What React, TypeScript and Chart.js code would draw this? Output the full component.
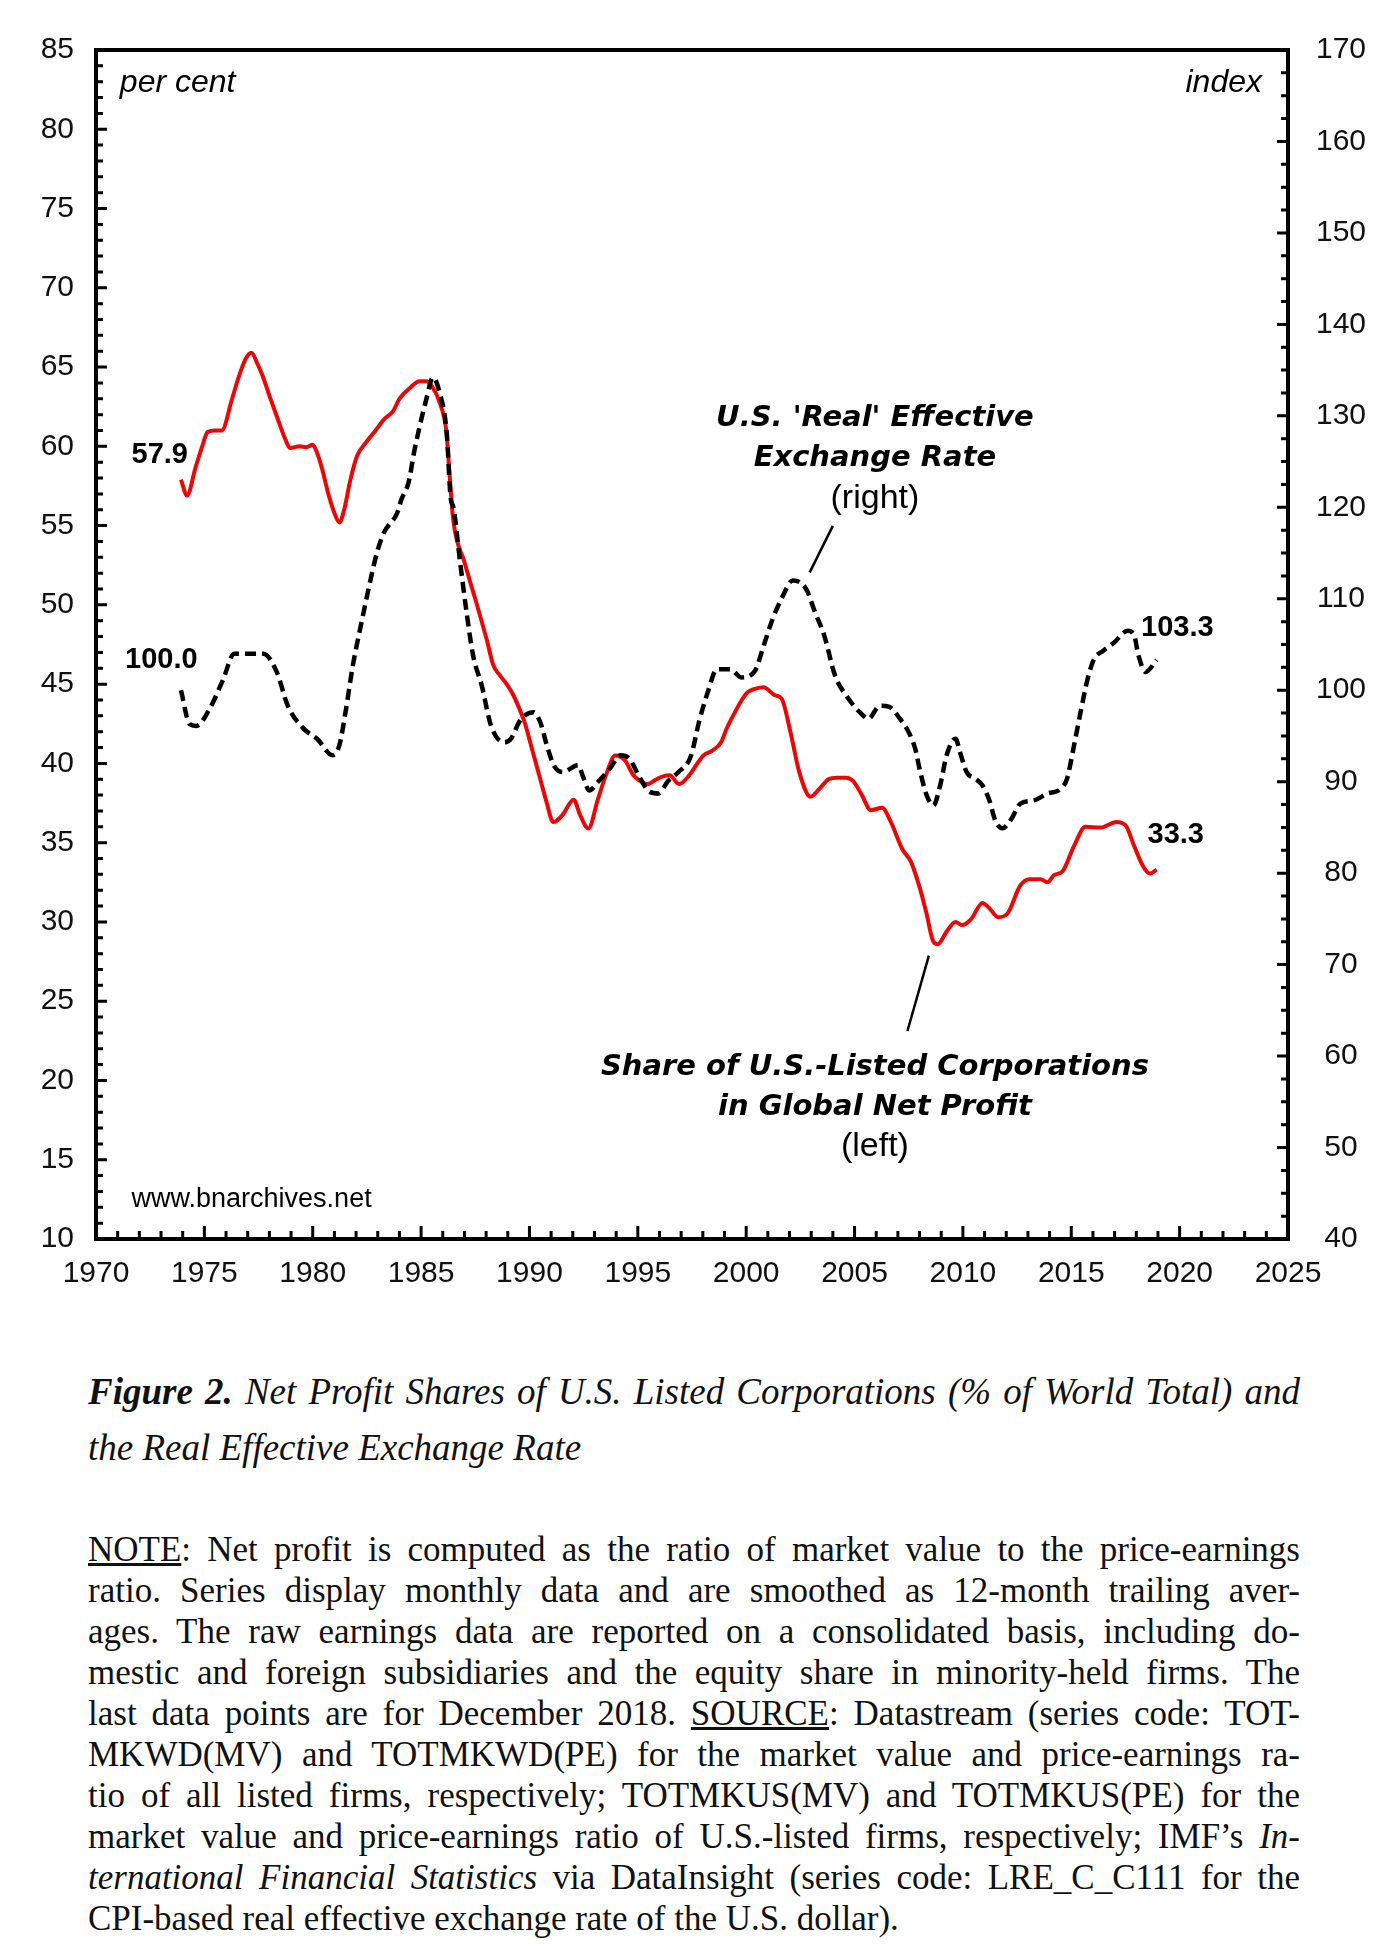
import React, { useEffect, useLayoutEffect, useRef } from 'react';
import { Chart, registerables } from 'chart.js';

Chart.register(...registerables);

// ---- axis ranges / tick steps ----
const X_MIN = 1970;
const X_MAX = 2025;
const X_STEP = 5;
const LEFT_MIN = 10;
const LEFT_MAX = 85;
const LEFT_STEP = 5;
const LEFT_MINOR = 1;
const RIGHT_MIN = 40;
const RIGHT_MAX = 170;
const RIGHT_STEP = 10;
const RIGHT_MINOR = 2.5;

// ---- Share of U.S.-listed corporations in global net profit (per cent, left) ----
const redYears = [
  1973.92, 1974.2, 1974.6, 1974.9, 1975.15, 1975.5, 1975.8, 1976.28, 1976.59, 1976.9, 1977.17,
  1977.45, 1977.7, 1978.0, 1978.34, 1978.75, 1978.95, 1979.4, 1979.7, 1980.0, 1980.2, 1980.45,
  1980.7, 1981.0, 1981.23, 1981.45, 1981.74, 1982.05, 1982.46, 1982.9, 1983.29, 1983.7, 1984.0,
  1984.5, 1984.93, 1985.24, 1985.5, 1985.86, 1986.17, 1986.3, 1986.48, 1987.0, 1987.6, 1988.03,
  1988.33, 1988.64, 1988.95, 1989.26, 1989.47, 1989.8, 1990.08, 1990.5, 1990.8, 1991.1, 1991.5,
  1992.04, 1992.35, 1992.72, 1993.17, 1993.58, 1993.95, 1994.4, 1994.8, 1995.1, 1995.44, 1995.86,
  1996.2, 1996.47, 1996.9, 1997.4, 1997.7, 1998.03, 1998.44, 1998.85, 1999.1, 1999.47, 1999.8,
  2000.08, 2000.4, 2000.81, 2001.32, 2001.63, 2002.04, 2002.45, 2002.97, 2003.38, 2003.8, 2004.2,
  2004.62, 2004.93, 2005.34, 2005.75, 2006.27, 2006.68, 2007.2, 2007.6, 2008.02, 2008.3, 2008.64,
  2008.84, 2009.25, 2009.66, 2009.97, 2010.39, 2010.9, 2011.2, 2011.63, 2012.04, 2012.65, 2013.07,
  2013.58, 2013.9, 2014.2, 2014.6, 2015.13, 2015.65, 2016.36, 2017.08, 2017.5, 2017.9, 2018.32,
  2018.63, 2018.94,
];
const redShare = [
  57.9, 56.9, 58.7, 60.0, 60.9, 61.0, 61.0, 63.0, 64.4, 65.5, 65.9,
  65.2, 64.4, 63.2, 61.9, 60.4, 59.9, 60.0, 59.95, 60.1, 59.6, 58.5,
  57.1, 55.8, 55.2, 56.0, 57.9, 59.4, 60.25, 61.0, 61.7, 62.2, 63.0,
  63.7, 64.1, 64.1, 63.8, 62.75, 60.9, 58.5, 55.4, 52.7, 49.9, 47.8,
  46.2, 45.55, 45.0, 44.3, 43.66, 42.5, 41.1, 39.0, 37.5, 36.3, 36.7,
  37.7, 36.7, 35.9, 37.8, 39.45, 40.5, 40.2, 39.25, 38.9, 38.7, 39.0,
  39.2, 39.25, 38.7, 39.3, 39.9, 40.5, 40.8, 41.35, 42.2, 43.2, 44.0,
  44.5, 44.7, 44.8, 44.3, 44.1, 42.0, 39.45, 37.9, 38.4, 39.0, 39.1,
  39.1, 38.9, 38.0, 37.05, 37.2, 36.3, 34.6, 33.8, 32.1, 30.65, 28.75,
  28.6, 29.4, 30.0, 29.8, 30.2, 31.2, 30.9, 30.3, 30.5, 32.3, 32.7,
  32.7, 32.5, 32.95, 33.2, 34.8, 36.0, 35.95, 36.3, 36.1, 34.8, 33.5,
  33.05, 33.3,
];

// ---- U.S. 'real' effective exchange rate (index, right) ----
const fxYears = [
  1973.92, 1974.32, 1974.63, 1975.25, 1975.87, 1976.38, 1977.0, 1977.72, 1978.34, 1978.85, 1979.58,
  1980.2, 1980.92, 1981.23, 1981.54, 1981.85, 1982.25, 1982.67, 1982.97, 1983.28, 1983.9, 1984.1,
  1984.42, 1984.7, 1985.24, 1985.55, 1985.86, 1986.18, 1986.37, 1986.48, 1986.8, 1987.1, 1987.4,
  1987.8, 1988.23, 1988.85, 1989.15, 1989.57, 1990.19, 1990.5, 1990.8, 1991.12, 1991.53, 1992.25,
  1992.45, 1992.76, 1993.17, 1993.7, 1994.2, 1994.62, 1995.03, 1995.54, 1995.96, 1996.37, 1996.88,
  1997.45, 1997.82, 1998.23, 1998.65, 1999.26, 1999.78, 2000.4, 2000.81, 2001.22, 2001.63, 2002.15,
  2002.76, 2003.18, 2003.6, 2004.1, 2004.62, 2005.24, 2005.65, 2006.16, 2006.58, 2007.09, 2007.5,
  2007.8, 2008.0, 2008.33, 2008.64, 2008.95, 2009.25, 2009.66, 2009.87, 2010.17, 2010.59, 2010.9,
  2011.2, 2011.52, 2011.83, 2012.24, 2012.65, 2013.27, 2013.9, 2014.5, 2014.8, 2015.13, 2015.43,
  2015.75, 2016.05, 2016.46, 2016.97, 2017.6, 2017.9, 2018.1, 2018.43, 2018.94,
];
const fxIndex = [
  100.0, 96.3, 96.1, 98.0, 101.2, 104.0, 104.0, 104.0, 102.0, 98.3, 95.8,
  94.7, 92.9, 94.0, 98.0, 102.7, 107.4, 112.1, 115.1, 117.2, 119.4, 120.9,
  122.7, 126.3, 131.8, 134.2, 132.5, 128.2, 120.9, 120.1, 114.0, 108.5, 103.8,
  100.5, 96.1, 94.3, 94.7, 96.7, 97.6, 96.5, 94.0, 91.8, 91.05, 91.8,
  90.7, 89.05, 90.0, 91.4, 92.9, 92.5, 90.7, 88.9, 88.7, 90.0, 91.05,
  92.8, 96.5, 99.8, 102.3, 102.3, 101.4, 102.1, 104.9, 107.8, 110.0, 112.0,
  111.1, 108.5, 106.0, 101.6, 99.4, 97.6, 96.9, 98.3, 98.2, 96.9, 95.4,
  93.6, 91.4, 88.5, 87.4, 89.6, 92.9, 94.7, 93.2, 91.05, 90.3, 89.6,
  88.1, 85.6, 84.9, 85.95, 87.6, 87.95, 88.7, 89.2, 90.3, 94.0, 97.6,
  101.2, 103.4, 104.3, 105.2, 106.5, 106.0, 103.8, 102.0, 103.3,
];

// ---- texts ----
const LABEL_RED_FIRST = '57.9';
const LABEL_RED_LAST = '33.3';
const LABEL_FX_FIRST = '100.0';
const LABEL_FX_LAST = '103.3';
const FX_TITLE = ["U.S. 'Real' Effective", 'Exchange Rate'];
const FX_SIDE = '(right)';
const RED_TITLE = ['Share of U.S.-Listed Corporations', 'in Global Net Profit'];
const RED_SIDE = '(left)';
const LEFT_UNIT = 'per cent';
const RIGHT_UNIT = 'index';
const SOURCE_URL = 'www.bnarchives.net';

const SANS = '"Liberation Sans", Arial, sans-serif';
const WIDE = '"DejaVu Sans", Verdana, sans-serif';

type Ann = {
  text: string;
  x: number;
  y: number;
  axis: 'y' | 'y1';
  font: string;
  align: CanvasTextAlign;
};

const annotations: Ann[] = [
  { text: LEFT_UNIT, x: 1971.1, y: 82.9, axis: 'y', font: `italic 32px ${SANS}`, align: 'left' },
  { text: RIGHT_UNIT, x: 2023.8, y: 82.9, axis: 'y', font: `italic 32px ${SANS}`, align: 'right' },
  { text: LABEL_RED_FIRST, x: 1971.64, y: 59.45, axis: 'y', font: `bold 29px ${SANS}`, align: 'left' },
  { text: LABEL_FX_FIRST, x: 1971.34, y: 103.3, axis: 'y1', font: `bold 29px ${SANS}`, align: 'left' },
  { text: LABEL_FX_LAST, x: 2018.22, y: 106.8, axis: 'y1', font: `bold 29px ${SANS}`, align: 'left' },
  { text: LABEL_RED_LAST, x: 2018.52, y: 35.5, axis: 'y', font: `bold 29px ${SANS}`, align: 'left' },
  { text: FX_TITLE[0], x: 2005.94, y: 61.75, axis: 'y', font: `italic bold 29px ${WIDE}`, align: 'center' },
  { text: FX_TITLE[1], x: 2005.94, y: 59.25, axis: 'y', font: `italic bold 29px ${WIDE}`, align: 'center' },
  { text: FX_SIDE, x: 2005.94, y: 56.7, axis: 'y', font: `34px ${SANS}`, align: 'center' },
  { text: RED_TITLE[0], x: 2005.94, y: 20.85, axis: 'y', font: `italic bold 29px ${WIDE}`, align: 'center' },
  { text: RED_TITLE[1], x: 2005.94, y: 18.3, axis: 'y', font: `italic bold 29px ${WIDE}`, align: 'center' },
  { text: RED_SIDE, x: 2005.94, y: 15.8, axis: 'y', font: `34px ${SANS}`, align: 'center' },
  { text: SOURCE_URL, x: 1971.64, y: 12.5, axis: 'y', font: `27px ${SANS}`, align: 'left' },
];

// leader lines (data coords on left axis)
const leaders = [
  { x1: 2004.0, y1: 54.98, x2: 2002.93, y2: 52.05 },
  { x1: 2008.43, y1: 27.88, x2: 2007.44, y2: 23.12 },
];

const framePlugin = {
  id: 'frameTicks',
  afterDatasetsDraw(chart: any) {
    const { ctx, chartArea: a, scales } = chart;
    const sx = scales.x;
    const sy = scales.y;
    const sr = scales.y1;
    ctx.save();
    ctx.strokeStyle = '#000';
    ctx.lineCap = 'butt';
    ctx.lineWidth = 3;
    ctx.beginPath();
    for (let v = X_MIN; v <= X_MAX + 1e-6; v += 1) {
      const px = sx.getPixelForValue(v);
      const major = Math.abs((v - X_MIN) % X_STEP) < 1e-6;
      const len = major ? 13 : 8;
      ctx.moveTo(px, a.bottom);
      ctx.lineTo(px, a.bottom - len);
    }
    for (let v = LEFT_MIN; v <= LEFT_MAX + 1e-6; v += LEFT_MINOR) {
      const py = sy.getPixelForValue(v);
      const major = Math.abs((v - LEFT_MIN) % LEFT_STEP) < 1e-6;
      const len = major ? 11 : 7;
      ctx.moveTo(a.left, py);
      ctx.lineTo(a.left + len, py);
    }
    for (let v = RIGHT_MIN; v <= RIGHT_MAX + 1e-6; v += RIGHT_MINOR) {
      const py = sr.getPixelForValue(v);
      const major = Math.abs((v - RIGHT_MIN) % RIGHT_STEP) < 1e-6;
      const len = major ? 11 : 7;
      ctx.moveTo(a.right, py);
      ctx.lineTo(a.right - len, py);
    }
    ctx.stroke();
    ctx.lineWidth = 4;
    ctx.strokeRect(a.left, a.top, a.right - a.left, a.bottom - a.top);
    ctx.restore();
  },
};

const annotationPlugin = {
  id: 'annotationsText',
  afterDraw(chart: any) {
    const { ctx, scales } = chart;
    ctx.save();
    ctx.fillStyle = '#000';
    ctx.textBaseline = 'middle';
    for (const an of annotations) {
      ctx.font = an.font;
      ctx.textAlign = an.align;
      const px = scales.x.getPixelForValue(an.x);
      const py = scales[an.axis].getPixelForValue(an.y);
      ctx.fillText(an.text, px, py);
    }
    ctx.strokeStyle = '#000';
    ctx.lineWidth = 2.5;
    for (const l of leaders) {
      ctx.beginPath();
      ctx.moveTo(scales.x.getPixelForValue(l.x1), scales.y.getPixelForValue(l.y1));
      ctx.lineTo(scales.x.getPixelForValue(l.x2), scales.y.getPixelForValue(l.y2));
      ctx.stroke();
    }
    ctx.restore();
  },
};

const CANVAS_W = 1390;
const CANVAS_H = 1300;
const PLOT_LEFT = 96;
const PLOT_RIGHT = 1288;
const PLOT_TOP = 50;
const PLOT_BOTTOM = 1239;

function ProfitChart() {
  const ref = useRef<HTMLCanvasElement | null>(null);
  useEffect(() => {
    if (!ref.current) return;
    const tickFont = { family: SANS, size: 30 };
    const chart = new Chart(ref.current, {
      type: 'line',
      data: {
        datasets: [
          {
            label: 'U.S. real effective exchange rate',
            data: fxYears.map((x, i) => ({ x, y: fxIndex[i] })),
            yAxisID: 'y1',
            borderColor: '#000',
            borderWidth: 4.5,
            borderDash: [11, 6],
            borderCapStyle: 'butt',
            pointRadius: 0,
            cubicInterpolationMode: 'monotone',
            fill: false,
            order: 0,
          },
          {
            label: 'Share of U.S.-listed corporations in global net profit',
            data: redYears.map((x, i) => ({ x, y: redShare[i] })),
            yAxisID: 'y',
            borderColor: 'rgb(232, 8, 8)',
            borderWidth: 4,
            pointRadius: 0,
            cubicInterpolationMode: 'monotone',
            fill: false,
            order: 1,
          },
        ],
      },
      options: {
        animation: false,
        responsive: false,
        maintainAspectRatio: false,
        layout: { padding: { top: PLOT_TOP, left: 0, right: 0, bottom: 0 } },
        plugins: { legend: { display: false }, tooltip: { enabled: false } },
        scales: {
          x: {
            type: 'linear',
            position: 'bottom',
            min: X_MIN,
            max: X_MAX,
            grid: { display: false, drawTicks: false, tickLength: 0 },
            border: { display: false },
            ticks: {
              stepSize: X_STEP,
              font: tickFont,
              color: '#111',
              padding: 17,
              maxRotation: 0,
              autoSkip: false,
              callback: (v: any) => String(v),
            },
            afterFit: (s: any) => {
              s.height = CANVAS_H - PLOT_BOTTOM;
            },
          },
          y: {
            type: 'linear',
            position: 'left',
            min: LEFT_MIN,
            max: LEFT_MAX,
            grid: { display: false, drawTicks: false, tickLength: 0 },
            border: { display: false },
            ticks: {
              stepSize: LEFT_STEP,
              font: tickFont,
              color: '#111',
              padding: 22,
              autoSkip: false,
              callback: (v: any) => String(v),
            },
            afterFit: (s: any) => {
              s.width = PLOT_LEFT;
            },
          },
          y1: {
            type: 'linear',
            position: 'right',
            min: RIGHT_MIN,
            max: RIGHT_MAX,
            grid: { display: false, drawTicks: false, tickLength: 0 },
            border: { display: false },
            ticks: {
              stepSize: RIGHT_STEP,
              font: tickFont,
              color: '#111',
              padding: 28,
              crossAlign: 'center',
              autoSkip: false,
              callback: (v: any) => String(v),
            },
            afterFit: (s: any) => {
              s.width = CANVAS_W - PLOT_RIGHT;
            },
          },
        },
      },
      plugins: [framePlugin, annotationPlugin],
    } as any);
    return () => chart.destroy();
  }, []);
  return (
    <canvas
      ref={ref}
      width={CANVAS_W}
      height={CANVAS_H}
      style={{ position: 'absolute', left: 0, top: 0, width: CANVAS_W, height: CANVAS_H }}
    />
  );
}

const serif = '"Liberation Serif", "Times New Roman", serif';
const LINE_W = 1212;

// one typeset line: justified to LINE_W by word spacing, or squeezed if too long
function JLine({ children, justify = true }: { children: React.ReactNode; justify?: boolean }) {
  const ref = useRef<HTMLSpanElement | null>(null);
  useLayoutEffect(() => {
    const el = ref.current;
    if (!el) return;
    el.style.wordSpacing = '0px';
    el.style.transform = '';
    const w = el.getBoundingClientRect().width;
    const spaces = (el.textContent || '').split(' ').length - 1;
    if (w > LINE_W) {
      el.style.transform = `scaleX(${LINE_W / w})`;
    } else if (justify && spaces > 0) {
      el.style.wordSpacing = `${(LINE_W - w) / spaces}px`;
    }
  }, []);
  return (
    <div style={{ whiteSpace: 'nowrap' }}>
      <span ref={ref} style={{ display: 'inline-block', transformOrigin: 'left center' }}>
        {children}
      </span>
    </div>
  );
}

export default function App() {
  return (
    <div style={{ position: 'absolute', left: 0, top: 0, width: 1390, height: 1956, background: '#fff' }}>
      <ProfitChart />
      <div
        style={{
          position: 'absolute',
          left: 88,
          top: 1364,
          width: LINE_W,
          fontFamily: serif,
          fontStyle: 'italic',
          fontSize: 37,
          lineHeight: '56px',
          color: '#111',
        }}
      >
        <JLine>
          <b>Figure 2.</b> Net Profit Shares of U.S. Listed Corporations (% of World Total) and
        </JLine>
        <JLine justify={false}>the Real Effective Exchange Rate</JLine>
      </div>
      <div
        style={{
          position: 'absolute',
          left: 88,
          top: 1529,
          width: LINE_W,
          fontFamily: serif,
          fontSize: 35,
          lineHeight: '41px',
          color: '#111',
        }}
      >
        <JLine>
          <u>NOTE</u>: Net profit is computed as the ratio of market value to the price-earnings
        </JLine>
        <JLine>ratio. Series display monthly data and are smoothed as 12-month trailing aver-</JLine>
        <JLine>ages. The raw earnings data are reported on a consolidated basis, including do-</JLine>
        <JLine>mestic and foreign subsidiaries and the equity share in minority-held firms. The</JLine>
        <JLine>
          last data points are for December 2018. <u>SOURCE</u>: Datastream (series code: TOT-
        </JLine>
        <JLine>MKWD(MV) and TOTMKWD(PE) for the market value and price-earnings ra-</JLine>
        <JLine>tio of all listed firms, respectively; TOTMKUS(MV) and TOTMKUS(PE) for the</JLine>
        <JLine>
          market value and price-earnings ratio of U.S.-listed firms, respectively; IMF’s <i>In-</i>
        </JLine>
        <JLine>
          <i>ternational Financial Statistics</i> via DataInsight (series code: LRE_C_C111 for the
        </JLine>
        <JLine justify={false}>CPI-based real effective exchange rate of the U.S. dollar).</JLine>
      </div>
    </div>
  );
}
